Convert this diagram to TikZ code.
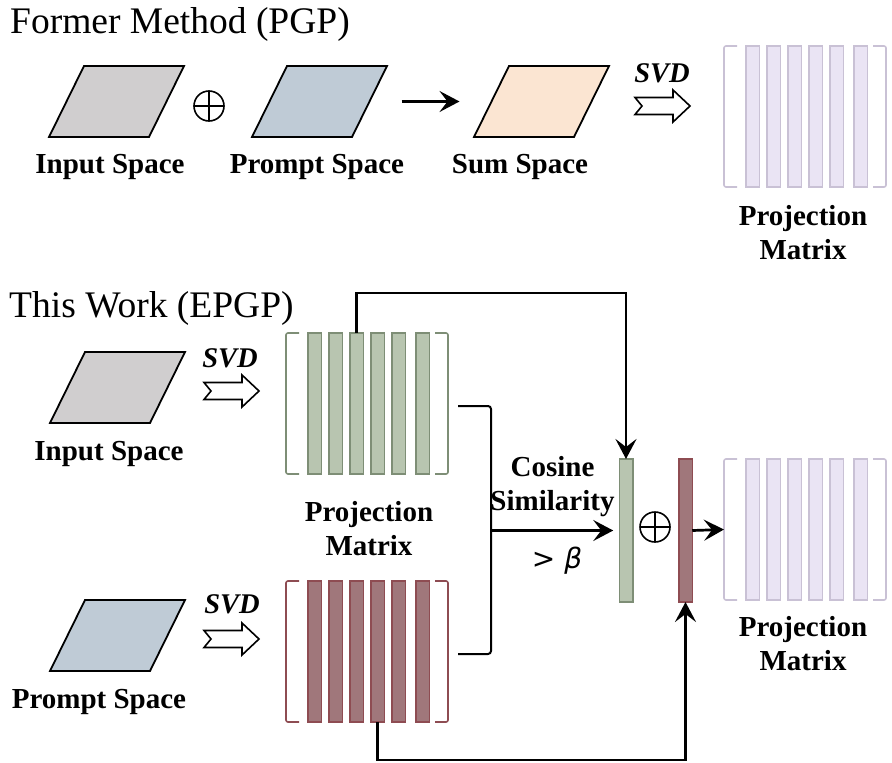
\documentclass[tikz,border=0pt]{standalone}
\usepackage{fontspec}
\setmainfont{Liberation Serif}
\newfontfamily\relfont{DejaVu Sans}
\usetikzlibrary{arrows.meta,calc}

\definecolor{ingray}{HTML}{D0CECF}
\definecolor{prblue}{HTML}{BFCBD6}
\definecolor{sumpeach}{HTML}{FBE5D2}
\definecolor{lavfill}{HTML}{EAE4F4}
\definecolor{lavdraw}{HTML}{C9C1D5}
\definecolor{grnfill}{HTML}{B8C5B0}
\definecolor{grndraw}{HTML}{7E8E76}
\definecolor{redfill}{HTML}{A0777B}
\definecolor{reddraw}{HTML}{8E4C52}

\begin{document}
\begin{tikzpicture}[
  x=1pt,y=-1pt,
  every node/.style={inner sep=0pt},
  title/.style={font=\fontsize{37.5}{40}\selectfont,anchor=base west},
  lbl/.style={font=\fontsize{29}{34}\selectfont\bfseries,align=center,anchor=base},
  svdlbl/.style={font=\fontsize{28.5}{34}\selectfont\bfseries\itshape,anchor=base},
  spacebox/.style={draw,line width=1.8pt},
  bar/.style={rectangle,line width=1.5pt,minimum width=13.5pt,minimum height=141pt,outer sep=0pt},
  oplus/.style={circle,draw,line width=1.6pt,minimum size=30pt,
    path picture={\draw[line width=1.6pt]
      (path picture bounding box.north) -- (path picture bounding box.south)
      (path picture bounding box.west) -- (path picture bounding box.east);}},
  link/.style={draw,line width=2.7pt,-{Stealth[length=20pt,width=21pt,inset=8pt]}},
  ]
  \useasboundingbox (0,0) rectangle (892,763);

  \node[title] (former) at (10,33) {Former Method (PGP)};
  \node[title] (thiswork) at (9,317) {This Work (EPGP)};

  % spaces
  \foreach \n/\x/\y/\c in {inA/49/137/ingray, prA/252/137/prblue, sumA/474/137/sumpeach,
                           inB/50/423/ingray, prB/50/671/prblue}{
    \draw[spacebox,fill=\c] (\x,\y) -- ++(100,0) -- ++(35,-71) -- ++(-100,0) -- cycle;
    \path (\x+117.5,\y-35.5) coordinate (\n-e) (\x+17.5,\y-35.5) coordinate (\n-w);
  }
  \node[lbl] (inA-lbl) at (110,173) {Input Space};
  \node[lbl] (prA-lbl) at (317,173) {Prompt Space};
  \node[lbl] (sumA-lbl) at (520,173) {Sum Space};
  \node[lbl] (inB-lbl) at (109,460) {Input Space};
  \node[lbl] (prB-lbl) at (99,708) {Prompt Space};

  \node[oplus] (plusA) at (209,106) {};
  \draw[link,shorten <=32pt,shorten >=32pt] (prA-e) -- (sumA-w);

  % svd arrows
  \foreach \n/\x/\y in {svdA/635/106, svdB/204/391, svdC/204/639}
    \draw[line width=1.6pt,fill=white] (\x,\y-8.5) coordinate (\n)
      -- ++(38,0) -- ++(0,-7.5) -- ++(17,16) -- ++(-17,16) -- ++(0,-7.5)
      -- ++(-38,0) -- ++(7,-8.5) -- cycle;
  \node[svdlbl] (svdA-lbl) at (662,82) {SVD};
  \node[svdlbl] (svdB-lbl) at (230,367) {SVD};
  \node[svdlbl] (svdC-lbl) at (232,613) {SVD};

  % projection matrices
  \foreach \m/\x/\y/\f/\d in {pa/746/46/lavfill/lavdraw, pg/308/333/grnfill/grndraw,
                              pr/308/581/redfill/reddraw, pb/746/459/lavfill/lavdraw}{
    \draw[\d,line width=1.6pt,rounded corners=2pt]
      (\x-9,\y) -- (\x-22,\y) -- (\x-22,\y+141) -- (\x-9,\y+141)
      (\x+127,\y) -- (\x+140,\y) -- (\x+140,\y+141) -- (\x+127,\y+141);
    \coordinate (\m-l) at (\x-22,\y+70.5);
    \foreach \i/\o in {1/0,2/21,3/42,4/63,5/84,6/108}
      \node[bar,fill=\f,draw=\d] (\m-\i) at (\x+\o+6.75,\y+70.5) {};
  }
  \node[lbl] (pa-lbl) at (803,259) {Projection\\Matrix};
  \node[lbl] (pg-lbl) at (369,555) {Projection\\Matrix};
  \node[lbl] (pb-lbl) at (803,670) {Projection\\Matrix};

  % merge
  \node[bar,fill=grnfill,draw=grndraw,minimum height=143pt] (gvec) at (626,530.5) {};
  \node[bar,fill=redfill,draw=reddraw,minimum height=143pt] (rvec) at (685.5,530.5) {};
  \node[oplus] (plusB) at (655,527) {};

  \coordinate (toprail) at (0,293);
  \coordinate (botrail) at (0,760);
  \coordinate (gtap) at (458,406);
  \coordinate (rtap) at (458,654);
  \coordinate (merge) at (491,530.5);

  \draw[line width=2pt,rounded corners=3pt] (gtap) -| (merge) |- (rtap);
  \draw[link,shorten >=6pt] (merge) -- (gvec.west);
  \node[lbl] (cos-lbl) at (552.5,510) {Cosine\\Similarity};
  \node[font=\fontsize{28}{34}\relfont] (beta) at (557,561) {> \textit{β}};

  \draw[link] (pg-3.north) -- (pg-3.north |- toprail) -| (gvec.north);
  \draw[link] (pr-4.south) -- (pr-4.south |- botrail) -| (rvec.south);
  \draw[link] (rvec.east) -- (pb-l);
\end{tikzpicture}
\end{document}
